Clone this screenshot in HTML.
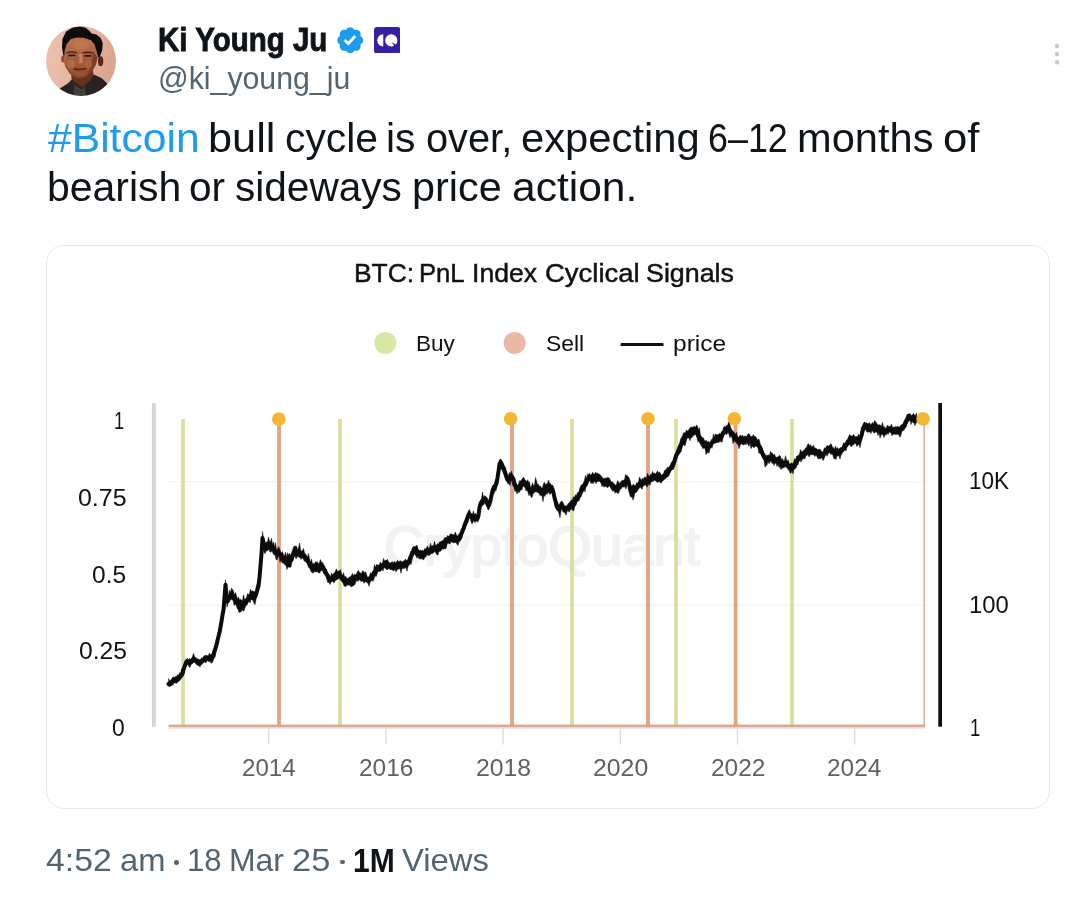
<!DOCTYPE html>
<html>
<head>
<meta charset="utf-8">
<title>Post</title>
<style>
html,body{margin:0;padding:0;background:#fff;}
body{width:1068px;height:899px;position:relative;overflow:hidden;font-family:"Liberation Sans",sans-serif;color:#0f1419;}
.abs{position:absolute;}
.t{position:absolute;white-space:nowrap;line-height:1;transform-origin:0 0;}
#avatar{left:46px;top:26px;width:70px;height:70px;}
#verified{left:335.1px;top:24.8px;width:30.4px;height:30.4px;}
#cq{left:373.6px;top:26.5px;width:26.6px;height:26.6px;}
#dots{left:1052.9px;top:41.9px;width:8px;height:26px;}
#card{left:46px;top:245px;width:1004px;height:564px;border:1px solid #e5e6e7;border-radius:18px;box-sizing:border-box;}
#chart{left:0;top:0;width:1068px;height:899px;}
svg text{font-family:"Liberation Sans",sans-serif;}
</style>
</head>
<body>
<svg id="avatar" class="abs" viewBox="0 0 70 70">
  <defs>
    <clipPath id="avc"><circle cx="35" cy="35" r="35"/></clipPath>
    <linearGradient id="avbg" x1="0" y1="0" x2="1" y2="0.25"><stop offset="0" stop-color="#ebc3b1"/><stop offset="0.45" stop-color="#e6b8a4"/><stop offset="1" stop-color="#dca58f"/></linearGradient>
    <linearGradient id="avsk" x1="0" y1="0" x2="0" y2="1"><stop offset="0" stop-color="#bb7650"/><stop offset="0.5" stop-color="#aa6341"/><stop offset="1" stop-color="#8a4529"/></linearGradient>
    <filter id="avb" x="-10%" y="-10%" width="120%" height="120%"><feGaussianBlur stdDeviation="0.6"/></filter>
  </defs>
  <g clip-path="url(#avc)">
    <rect width="70" height="70" fill="url(#avbg)"/>
    <g filter="url(#avb)">
      <path d="M8 68 L14.200 62.300 L21.800 57.400 L25.800 53.400 L30 50 L47.600 48.500 L55.600 52.100 L61.400 57.800 L68 66 L68 74 L6 74Z" fill="#2a2321"/>
      <path d="M25 45 L47 43 L47.500 50 L44 55 L36 61 L30 57 L25.500 53Z" fill="#63301c"/>
      <path d="M28.500 58.500 L35.500 63.500 L38.500 59 L40.500 72 L27 72Z" fill="#423d3c"/>
      <ellipse cx="54.600" cy="35.200" rx="2.700" ry="5" fill="#5a2a1a"/>
      <ellipse cx="16.900" cy="33" rx="1.700" ry="3.500" fill="#8b4b2f"/>
      <path d="M18.400 22 L20.500 14 L30 10 L44 11 L50 20 L51.600 31.600 L49.800 38.700 L45.800 45.800 L39.600 50.700 L33.400 52.500 L28.900 51.600 L23.600 47.600 L19.600 41.400 L17.800 35.100Z" fill="url(#avsk)"/>
      <path d="M47.500 26 L51.600 31.600 L49.800 38.700 L45.800 45.800 L40 50.500 Q46 40 47.500 26Z" fill="#7c3f27"/>
      <path d="M17.300 29.400 L16 21.800 L16.500 12.900 L20 5.800 L26.200 1.800 L33.400 0.600 L39.600 1.800 L43.600 4.900 L45.500 7.400 L50.300 8.400 L54.700 12 L56.700 17.300 L56.100 24.500 L53.800 30.700 L52.100 31.600 L50.700 25.400 L48.500 18.200 L44.900 14.200 L37.800 11.800 L30.700 11.600 L24.500 13.300 L20.500 18.200 L18.700 24.500 L18.400 29.400Z" fill="#0b0808"/>
      <path d="M20.500 27 Q25 24.800 31 26.800" stroke="#4a2416" stroke-width="1.400" fill="none"/>
      <path d="M36.500 27.200 Q42 25.200 47.500 27.200" stroke="#4a2416" stroke-width="1.400" fill="none"/>
      <ellipse cx="26" cy="30.800" rx="4.500" ry="3.400" fill="none" stroke="#7a4a30" stroke-width="0.550"/>
      <ellipse cx="42" cy="31" rx="4.700" ry="3.400" fill="none" stroke="#7a4a30" stroke-width="0.550"/>
      <path d="M22.500 29.600 L29.300 29.400 M38.500 29.800 L45.300 29.800" stroke="#321509" stroke-width="1.800"/><ellipse cx="34.500" cy="19" rx="8" ry="5" fill="#c27c54" opacity="0.7"/><ellipse cx="25" cy="38" rx="4" ry="4.500" fill="#b8714a" opacity="0.7"/><ellipse cx="42.500" cy="38" rx="3.500" ry="4.500" fill="#b06843" opacity="0.7"/>
      <path d="M32.800 28 Q34.300 33 33 37.200 L37 37.200 Q36.200 32 36 28Z" fill="#c88058"/>
      <path d="M27.800 42.800 Q34 44.600 40.200 42.400" stroke="#55230f" stroke-width="1.500" fill="none"/>
      <path d="M29 46 Q34 48.500 39 45.500 L37 49.500 L31 49.500Z" fill="#9c5636"/>
    </g>
  </g>
</svg>
<svg id="verified" class="abs" viewBox="0 0 24 24"><path fill="#1d9bf0" d="M22.250 12c0-1.430-.880-2.670-2.190-3.340.460-1.390.200-2.900-.810-3.910s-2.520-1.270-3.910-.810c-.660-1.310-1.910-2.190-3.340-2.190s-2.670.880-3.330 2.190c-1.400-.460-2.910-.200-3.920.810s-1.260 2.520-.800 3.910c-1.310.670-2.200 1.910-2.200 3.340s.890 2.670 2.200 3.340c-.460 1.390-.210 2.900.800 3.910s2.520 1.260 3.910.810c.670 1.310 1.910 2.190 3.340 2.190s2.680-.880 3.340-2.190c1.390.450 2.900.200 3.910-.810s1.270-2.520.810-3.910c1.310-.670 2.190-1.910 2.190-3.340z"/><path fill="none" stroke="#fff" stroke-width="2.200" stroke-linejoin="miter" d="M7.400 11.800 L10.600 14.600 L16 8.700"/></svg>
<svg id="cq" class="abs" viewBox="0 0 26.600 26.600"><rect width="26.600" height="26.600" rx="3.200" fill="#3420a5"/><path d="M9.250 7.350 A6.050 6.050 0 0 0 9.250 19.450Z" fill="#fff"/><circle cx="17.300" cy="13.400" r="6.050" fill="#fff"/><path d="M17.300 14.900 L22.900 18.300 L21.200 20.300Z" fill="#3420a5"/></svg>
<svg id="dots" class="abs" viewBox="0 0 8 26"><circle cx="4" cy="4" r="2.200" fill="#c4c9d1"/><circle cx="4" cy="12.100" r="2.200" fill="#c4c9d1"/><circle cx="4" cy="20.200" r="2.200" fill="#c4c9d1"/></svg>
<div id="card" class="abs"></div>
<svg id="chart" class="abs" viewBox="0 0 1068 899" width="1068" height="899">
<text id="wm" x="384" y="564.8" font-size="55" fill="#f2f2f4" stroke="#f2f2f4" stroke-width="1.9" textLength="316" lengthAdjust="spacingAndGlyphs">CryptoQuant</text>
<rect x="168" y="481.1" width="757" height="1.2" fill="#f3f3f5"/>
<rect x="168" y="604.6" width="757" height="1.2" fill="#f3f3f5"/>
<rect x="151.9" y="403.2" width="3.9" height="323.5" fill="#d4d4db"/>
<rect x="938.3" y="403" width="3.7" height="323.7" fill="#0d0d0f"/>
<rect x="181.20" y="419" width="3.6" height="308" fill="#d0e39e"/>
<rect x="338.20" y="419" width="3.6" height="308" fill="#d0e39e"/>
<rect x="570.20" y="419" width="3.6" height="308" fill="#d0e39e"/>
<rect x="674.20" y="419" width="3.6" height="308" fill="#d0e39e"/>
<rect x="790.20" y="419" width="3.6" height="308" fill="#d0e39e"/>
<rect x="277.10" y="419" width="3.8" height="308" fill="#e2a485"/>
<rect x="510.10" y="419" width="3.8" height="308" fill="#e2a485"/>
<rect x="646.10" y="419" width="3.8" height="308" fill="#e2a485"/>
<rect x="733.70" y="419" width="3.8" height="308" fill="#e2a485"/>
<rect x="923.4" y="419" width="1.5" height="308" fill="#e5ad92"/>
<rect x="168.6" y="726.6" width="756.4" height="2" fill="#d9dae2"/>
<rect x="168.6" y="724.6" width="756.4" height="2.3" fill="#e2a485"/>
<rect x="268.0" y="728.4" width="1.4" height="16.2" fill="#dedede"/>
<rect x="385.2" y="728.4" width="1.4" height="16.2" fill="#dedede"/>
<rect x="502.4" y="728.4" width="1.4" height="16.2" fill="#dedede"/>
<rect x="619.6" y="728.4" width="1.4" height="16.2" fill="#dedede"/>
<rect x="736.8" y="728.4" width="1.4" height="16.2" fill="#dedede"/>
<rect x="854.0" y="728.4" width="1.4" height="16.2" fill="#dedede"/>
<path d="M168.5 683.9 L169.5 683.5 L170.5 683.3 L171.5 682.1 L172.5 681.9 L173.5 681.2 L174.5 680.0 L175.5 679.7 L176.5 679.6 L177.5 679.7 L178.5 678.5 L179.5 677.2 L180.5 676.4 L181.5 675.3 L182.5 673.4 L183.5 669.7 L184.5 666.7 L185.5 663.8 L186.5 661.4 L187.5 661.6 L188.5 662.5 L189.5 663.1 L190.5 662.5 L191.5 661.7 L192.5 659.9 L193.5 659.1 L194.5 659.6 L195.5 660.5 L196.5 661.1 L197.5 662.8 L198.5 662.3 L199.5 662.9 L200.5 662.3 L201.5 661.3 L202.5 660.9 L203.5 659.7 L204.5 658.9 L205.5 659.1 L206.5 657.9 L207.5 658.3 L208.5 658.1 L209.5 657.7 L210.5 658.0 L211.5 657.8 L212.5 657.6 L213.5 654.5 L214.5 650.9 L215.5 648.5 L216.5 645.0 L217.5 640.5 L218.5 636.4 L219.5 632.5 L220.5 627.2 L221.5 621.3 L222.5 615.0 L223.5 609.9 L224.5 597.5 L225.5 584.7 L226.5 596.5 L227.5 601.4 L228.5 599.9 L229.5 597.1 L230.5 595.9 L231.5 596.0 L232.5 595.9 L233.5 596.8 L234.5 599.0 L235.5 599.6 L236.5 600.7 L237.5 602.7 L238.5 605.3 L239.5 606.6 L240.5 607.1 L241.5 606.7 L242.5 605.2 L243.5 603.7 L244.5 602.9 L245.5 602.4 L246.5 601.1 L247.5 599.7 L248.5 598.0 L249.5 596.6 L250.5 597.0 L251.5 596.3 L252.5 597.0 L253.5 597.1 L254.5 597.4 L255.5 596.0 L256.5 592.8 L257.5 589.3 L258.5 586.1 L259.5 577.5 L260.5 565.8 L261.5 553.9 L262.5 538.0 L263.5 542.2 L264.5 547.0 L265.5 548.8 L266.5 547.4 L267.5 546.2 L268.5 545.4 L269.5 544.8 L270.5 545.7 L271.5 547.2 L272.5 547.9 L273.5 549.4 L274.5 550.5 L275.5 552.1 L276.5 553.0 L277.5 553.3 L278.5 553.4 L279.5 553.2 L280.5 555.3 L281.5 557.0 L282.5 558.1 L283.5 558.9 L284.5 560.4 L285.5 561.2 L286.5 562.9 L287.5 564.1 L288.5 562.4 L289.5 561.3 L290.5 560.1 L291.5 558.4 L292.5 555.8 L293.5 553.9 L294.5 552.2 L295.5 552.0 L296.5 553.1 L297.5 553.1 L298.5 552.8 L299.5 553.6 L300.5 554.4 L301.5 554.1 L302.5 554.4 L303.5 555.8 L304.5 557.0 L305.5 558.2 L306.5 559.5 L307.5 559.9 L308.5 562.2 L309.5 563.5 L310.5 565.4 L311.5 567.4 L312.5 569.0 L313.5 568.3 L314.5 567.7 L315.5 567.5 L316.5 568.1 L317.5 567.3 L318.5 567.3 L319.5 567.5 L320.5 566.9 L321.5 566.8 L322.5 567.0 L323.5 568.0 L324.5 570.1 L325.5 572.2 L326.5 574.2 L327.5 575.7 L328.5 577.8 L329.5 580.1 L330.5 580.0 L331.5 578.9 L332.5 578.4 L333.5 577.3 L334.5 576.6 L335.5 576.0 L336.5 575.8 L337.5 575.2 L338.5 574.7 L339.5 574.9 L340.5 575.6 L341.5 577.3 L342.5 579.2 L343.5 580.3 L344.5 581.8 L345.5 581.8 L346.5 581.2 L347.5 581.2 L348.5 580.9 L349.5 580.7 L350.5 580.4 L351.5 580.0 L352.5 580.1 L353.5 579.5 L354.5 578.6 L355.5 578.4 L356.5 577.4 L357.5 576.2 L358.5 575.8 L359.5 576.3 L360.5 576.3 L361.5 576.3 L362.5 577.1 L363.5 577.5 L364.5 578.1 L365.5 577.9 L366.5 578.7 L367.5 580.1 L368.5 580.5 L369.5 579.4 L370.5 578.3 L371.5 577.2 L372.5 575.5 L373.5 574.0 L374.5 572.2 L375.5 571.4 L376.5 570.4 L377.5 568.7 L378.5 568.2 L379.5 567.3 L380.5 566.4 L381.5 566.8 L382.5 566.2 L383.5 564.8 L384.5 564.0 L385.5 563.8 L386.5 564.1 L387.5 565.0 L388.5 565.6 L389.5 565.7 L390.5 566.4 L391.5 566.1 L392.5 566.6 L393.5 566.8 L394.5 566.1 L395.5 566.5 L396.5 565.5 L397.5 564.8 L398.5 565.3 L399.5 565.7 L400.5 564.8 L401.5 564.7 L402.5 565.0 L403.5 564.3 L404.5 564.2 L405.5 563.8 L406.5 563.6 L407.5 564.1 L408.5 561.9 L409.5 560.1 L410.5 556.8 L411.5 555.4 L412.5 553.3 L413.5 550.3 L414.5 550.2 L415.5 550.7 L416.5 551.0 L417.5 551.8 L418.5 552.9 L419.5 554.4 L420.5 554.8 L421.5 555.1 L422.5 555.3 L423.5 555.2 L424.5 553.6 L425.5 552.6 L426.5 551.7 L427.5 551.5 L428.5 551.5 L429.5 551.4 L430.5 550.8 L431.5 549.5 L432.5 549.2 L433.5 548.8 L434.5 548.6 L435.5 548.7 L436.5 549.1 L437.5 548.2 L438.5 547.7 L439.5 547.0 L440.5 546.7 L441.5 545.9 L442.5 544.5 L443.5 543.1 L444.5 542.6 L445.5 541.7 L446.5 540.9 L447.5 540.7 L448.5 539.5 L449.5 538.6 L450.5 537.7 L451.5 539.0 L452.5 539.0 L453.5 538.7 L454.5 539.2 L455.5 539.7 L456.5 539.5 L457.5 539.0 L458.5 538.7 L459.5 538.4 L460.5 537.3 L461.5 533.6 L462.5 530.8 L463.5 529.0 L464.5 525.7 L465.5 523.2 L466.5 520.4 L467.5 517.4 L468.5 514.9 L469.5 514.5 L470.5 516.4 L471.5 516.8 L472.5 517.2 L473.5 517.1 L474.5 517.7 L475.5 517.6 L476.5 518.3 L477.5 518.5 L478.5 515.5 L479.5 507.8 L480.5 503.5 L481.5 502.1 L482.5 500.9 L483.5 500.7 L484.5 499.4 L485.5 498.9 L486.5 501.6 L487.5 503.5 L488.5 505.9 L489.5 504.0 L490.5 500.3 L491.5 495.4 L492.5 490.8 L493.5 488.1 L494.5 486.6 L495.5 485.4 L496.5 483.6 L497.5 478.0 L498.5 471.5 L499.5 463.9 L500.5 462.3 L501.5 464.2 L502.5 466.3 L503.5 468.6 L504.5 471.4 L505.5 473.9 L506.5 477.2 L507.5 479.4 L508.5 480.5 L509.5 478.6 L510.5 477.4 L511.5 476.5 L512.5 478.0 L513.5 480.7 L514.5 484.2 L515.5 485.7 L516.5 488.8 L517.5 489.2 L518.5 487.4 L519.5 486.0 L520.5 485.2 L521.5 483.5 L522.5 482.4 L523.5 482.3 L524.5 483.8 L525.5 484.8 L526.5 485.5 L527.5 487.0 L528.5 488.5 L529.5 489.6 L530.5 490.5 L531.5 489.5 L532.5 489.3 L533.5 489.1 L534.5 488.3 L535.5 487.1 L536.5 487.1 L537.5 488.5 L538.5 489.3 L539.5 491.2 L540.5 491.6 L541.5 492.0 L542.5 491.6 L543.5 491.3 L544.5 490.1 L545.5 489.5 L546.5 489.0 L547.5 488.6 L548.5 488.1 L549.5 487.7 L550.5 488.3 L551.5 488.9 L552.5 489.4 L553.5 492.7 L554.5 497.7 L555.5 501.2 L556.5 505.8 L557.5 507.9 L558.5 508.0 L559.5 507.9 L560.5 507.2 L561.5 506.6 L562.5 506.3 L563.5 507.6 L564.5 509.1 L565.5 509.5 L566.5 509.0 L567.5 507.7 L568.5 507.1 L569.5 506.6 L570.5 505.9 L571.5 505.5 L572.5 504.3 L573.5 503.3 L574.5 502.1 L575.5 500.5 L576.5 499.2 L577.5 498.2 L578.5 496.3 L579.5 494.8 L580.5 493.1 L581.5 490.9 L582.5 489.3 L583.5 487.4 L584.5 485.8 L585.5 484.6 L586.5 482.5 L587.5 480.7 L588.5 478.0 L589.5 477.4 L590.5 478.0 L591.5 478.6 L592.5 477.3 L593.5 477.2 L594.5 477.7 L595.5 477.7 L596.5 477.5 L597.5 476.7 L598.5 477.1 L599.5 478.0 L600.5 479.2 L601.5 480.5 L602.5 481.2 L603.5 482.3 L604.5 482.7 L605.5 482.4 L606.5 482.4 L607.5 482.7 L608.5 482.5 L609.5 482.5 L610.5 483.9 L611.5 484.9 L612.5 486.0 L613.5 486.5 L614.5 487.2 L615.5 488.6 L616.5 488.7 L617.5 487.6 L618.5 487.7 L619.5 486.9 L620.5 485.5 L621.5 484.5 L622.5 483.6 L623.5 483.1 L624.5 482.8 L625.5 481.3 L626.5 480.3 L627.5 479.2 L628.5 481.1 L629.5 486.1 L630.5 491.2 L631.5 493.4 L632.5 492.2 L633.5 490.8 L634.5 490.0 L635.5 489.2 L636.5 487.3 L637.5 486.7 L638.5 484.7 L639.5 483.8 L640.5 484.0 L641.5 483.9 L642.5 483.0 L643.5 482.5 L644.5 482.1 L645.5 481.5 L646.5 481.1 L647.5 480.4 L648.5 480.0 L649.5 480.0 L650.5 479.5 L651.5 478.4 L652.5 477.7 L653.5 476.5 L654.5 476.6 L655.5 477.0 L656.5 477.1 L657.5 478.2 L658.5 478.9 L659.5 479.3 L660.5 479.5 L661.5 478.9 L662.5 477.9 L663.5 477.4 L664.5 475.6 L665.5 474.7 L666.5 473.6 L667.5 472.0 L668.5 471.3 L669.5 469.7 L670.5 468.1 L671.5 466.7 L672.5 465.9 L673.5 464.3 L674.5 460.9 L675.5 457.3 L676.5 454.9 L677.5 453.4 L678.5 450.8 L679.5 448.0 L680.5 445.3 L681.5 443.9 L682.5 441.6 L683.5 440.1 L684.5 439.3 L685.5 437.7 L686.5 435.5 L687.5 434.1 L688.5 433.5 L689.5 433.7 L690.5 433.8 L691.5 433.5 L692.5 432.2 L693.5 431.8 L694.5 432.2 L695.5 431.2 L696.5 432.5 L697.5 433.9 L698.5 435.9 L699.5 436.7 L700.5 439.3 L701.5 440.7 L702.5 442.0 L703.5 443.0 L704.5 444.7 L705.5 445.3 L706.5 447.4 L707.5 448.1 L708.5 448.2 L709.5 446.2 L710.5 444.9 L711.5 443.4 L712.5 442.4 L713.5 440.9 L714.5 439.7 L715.5 439.3 L716.5 438.9 L717.5 438.5 L718.5 438.4 L719.5 437.8 L720.5 437.4 L721.5 436.5 L722.5 434.5 L723.5 432.6 L724.5 431.6 L725.5 430.1 L726.5 428.8 L727.5 428.7 L728.5 429.5 L729.5 429.8 L730.5 431.2 L731.5 433.0 L732.5 434.7 L733.5 435.7 L734.5 436.8 L735.5 437.4 L736.5 438.8 L737.5 440.8 L738.5 440.6 L739.5 440.1 L740.5 440.3 L741.5 440.7 L742.5 441.6 L743.5 440.6 L744.5 440.4 L745.5 440.5 L746.5 439.5 L747.5 439.4 L748.5 439.5 L749.5 439.6 L750.5 440.0 L751.5 440.8 L752.5 440.9 L753.5 440.6 L754.5 440.4 L755.5 441.8 L756.5 442.5 L757.5 444.2 L758.5 445.6 L759.5 446.7 L760.5 448.6 L761.5 451.1 L762.5 453.6 L763.5 455.8 L764.5 457.8 L765.5 459.2 L766.5 459.5 L767.5 458.5 L768.5 458.0 L769.5 458.8 L770.5 458.1 L771.5 457.2 L772.5 458.1 L773.5 458.5 L774.5 459.5 L775.5 459.8 L776.5 460.3 L777.5 461.4 L778.5 461.2 L779.5 462.1 L780.5 462.8 L781.5 463.2 L782.5 462.9 L783.5 463.5 L784.5 463.6 L785.5 463.4 L786.5 463.9 L787.5 464.9 L788.5 465.8 L789.5 467.0 L790.5 467.7 L791.5 466.9 L792.5 467.7 L793.5 467.5 L794.5 465.5 L795.5 463.1 L796.5 461.3 L797.5 460.3 L798.5 458.7 L799.5 457.2 L800.5 456.3 L801.5 455.9 L802.5 455.1 L803.5 454.6 L804.5 453.7 L805.5 452.6 L806.5 452.0 L807.5 451.7 L808.5 450.8 L809.5 450.4 L810.5 450.3 L811.5 450.6 L812.5 451.1 L813.5 450.9 L814.5 451.1 L815.5 451.5 L816.5 452.2 L817.5 452.7 L818.5 452.7 L819.5 453.9 L820.5 454.4 L821.5 454.9 L822.5 456.0 L823.5 455.3 L824.5 453.0 L825.5 451.1 L826.5 450.1 L827.5 449.7 L828.5 449.3 L829.5 449.8 L830.5 449.5 L831.5 450.4 L832.5 451.2 L833.5 452.5 L834.5 452.9 L835.5 453.5 L836.5 452.3 L837.5 452.2 L838.5 452.5 L839.5 451.9 L840.5 451.3 L841.5 450.3 L842.5 450.1 L843.5 448.1 L844.5 446.8 L845.5 445.5 L846.5 444.4 L847.5 443.1 L848.5 441.5 L849.5 440.3 L850.5 439.8 L851.5 440.4 L852.5 440.4 L853.5 440.5 L854.5 440.7 L855.5 440.7 L856.5 440.9 L857.5 441.4 L858.5 441.4 L859.5 440.1 L860.5 438.0 L861.5 435.5 L862.5 431.4 L863.5 428.1 L864.5 425.5 L865.5 426.4 L866.5 426.8 L867.5 426.7 L868.5 426.4 L869.5 427.6 L870.5 428.0 L871.5 426.9 L872.5 426.3 L873.5 426.9 L874.5 426.9 L875.5 426.7 L876.5 426.9 L877.5 427.7 L878.5 428.2 L879.5 429.3 L880.5 430.4 L881.5 430.6 L882.5 430.9 L883.5 431.5 L884.5 431.7 L885.5 431.5 L886.5 430.5 L887.5 429.4 L888.5 429.3 L889.5 429.2 L890.5 429.9 L891.5 430.5 L892.5 430.3 L893.5 430.5 L894.5 430.7 L895.5 430.8 L896.5 430.5 L897.5 430.4 L898.5 431.0 L899.5 430.9 L900.5 429.3 L901.5 428.5 L902.5 427.4 L903.5 426.7 L904.5 425.0 L905.5 423.0 L906.5 420.8 L907.5 419.4 L908.5 417.7 L909.5 417.7 L910.5 418.3 L911.5 418.5 L912.5 417.9 L913.5 419.0 L914.5 418.5 L915.5 418.8 L916.5 418.8" fill="none" stroke="#0c0c0e" stroke-width="4" stroke-linejoin="round" stroke-linecap="round"/>
<path d="M168.5 678.6 L169.5 680.4 L170.5 680.7 L171.5 679.0 L172.5 677.5 L173.5 677.1 L174.5 677.6 L175.5 676.4 L176.5 676.5 L177.5 674.6 L178.5 676.0 L179.5 672.6 L180.5 674.0 L181.5 669.1 L182.5 669.3 L183.5 665.5 L184.5 664.3 L185.5 660.6 L186.5 658.9 L187.5 658.4 L188.5 659.8 L189.5 658.5 L190.5 659.2 L191.5 658.8 L192.5 656.6 L193.5 653.3 L194.5 656.6 L195.5 657.7 L196.5 657.9 L197.5 659.2 L198.5 658.9 L199.5 659.7 L200.5 659.8 L201.5 657.8 L202.5 658.4 L203.5 656.6 L204.5 655.6 L205.5 655.6 L206.5 655.3 L207.5 655.7 L208.5 655.5 L209.5 653.1 L210.5 654.9 L211.5 654.2 L212.5 654.5 L213.5 650.8 L214.5 645.7 L215.5 643.2 L216.5 641.9 L217.5 635.9 L218.5 630.8 L219.5 628.0 L220.5 622.4 L221.5 617.2 L222.5 608.9 L223.5 605.2 L224.5 589.5 L225.5 579.8 L226.5 593.3 L227.5 596.2 L228.5 596.0 L229.5 590.1 L230.5 592.8 L231.5 588.1 L232.5 589.4 L233.5 591.2 L234.5 595.2 L235.5 592.5 L236.5 595.5 L237.5 599.7 L238.5 597.0 L239.5 600.1 L240.5 599.2 L241.5 600.0 L242.5 600.7 L243.5 594.7 L244.5 599.4 L245.5 598.9 L246.5 598.2 L247.5 593.6 L248.5 595.1 L249.5 593.3 L250.5 589.2 L251.5 592.0 L252.5 590.4 L253.5 591.5 L254.5 591.5 L255.5 592.6 L256.5 584.7 L257.5 585.8 L258.5 581.1 L259.5 572.5 L260.5 558.0 L261.5 550.1 L262.5 531.6 L263.5 538.6 L264.5 543.0 L265.5 543.7 L266.5 541.8 L267.5 542.2 L268.5 536.9 L269.5 541.3 L270.5 541.7 L271.5 538.2 L272.5 544.6 L273.5 541.9 L274.5 547.3 L275.5 542.6 L276.5 549.9 L277.5 549.1 L278.5 546.7 L279.5 548.6 L280.5 551.5 L281.5 553.8 L282.5 551.5 L283.5 554.9 L284.5 555.8 L285.5 552.1 L286.5 557.4 L287.5 552.8 L288.5 555.3 L289.5 553.2 L290.5 556.6 L291.5 553.0 L292.5 550.3 L293.5 546.9 L294.5 546.0 L295.5 546.2 L296.5 546.2 L297.5 549.4 L298.5 548.0 L299.5 543.0 L300.5 549.3 L301.5 551.5 L302.5 550.5 L303.5 548.4 L304.5 552.7 L305.5 554.0 L306.5 555.3 L307.5 557.2 L308.5 553.5 L309.5 559.0 L310.5 562.6 L311.5 559.0 L312.5 564.1 L313.5 563.2 L314.5 563.9 L315.5 561.7 L316.5 562.2 L317.5 561.7 L318.5 564.2 L319.5 562.5 L320.5 559.6 L321.5 562.6 L322.5 562.3 L323.5 564.2 L324.5 566.0 L325.5 569.2 L326.5 569.0 L327.5 572.9 L328.5 573.3 L329.5 575.5 L330.5 576.8 L331.5 573.1 L332.5 574.5 L333.5 573.6 L334.5 572.7 L335.5 570.9 L336.5 568.8 L337.5 572.0 L338.5 570.8 L339.5 570.9 L340.5 569.5 L341.5 573.4 L342.5 576.5 L343.5 572.6 L344.5 576.8 L345.5 576.2 L346.5 577.8 L347.5 578.5 L348.5 578.1 L349.5 576.9 L350.5 576.5 L351.5 575.3 L352.5 573.4 L353.5 575.9 L354.5 573.9 L355.5 575.0 L356.5 574.0 L357.5 571.4 L358.5 570.4 L359.5 572.6 L360.5 573.0 L361.5 573.4 L362.5 570.8 L363.5 571.3 L364.5 573.1 L365.5 571.7 L366.5 574.3 L367.5 577.5 L368.5 576.9 L369.5 575.7 L370.5 572.7 L371.5 573.4 L372.5 571.1 L373.5 570.9 L374.5 564.4 L375.5 567.6 L376.5 564.5 L377.5 564.9 L378.5 565.3 L379.5 564.2 L380.5 562.0 L381.5 564.0 L382.5 563.3 L383.5 558.4 L384.5 560.9 L385.5 560.0 L386.5 560.4 L387.5 559.2 L388.5 562.0 L389.5 562.7 L390.5 563.0 L391.5 561.9 L392.5 561.7 L393.5 563.2 L394.5 561.3 L395.5 563.1 L396.5 561.9 L397.5 560.3 L398.5 561.7 L399.5 561.2 L400.5 560.7 L401.5 561.4 L402.5 562.0 L403.5 561.0 L404.5 560.5 L405.5 559.0 L406.5 560.5 L407.5 560.6 L408.5 558.0 L409.5 556.4 L410.5 551.5 L411.5 551.6 L412.5 547.5 L413.5 546.5 L414.5 546.4 L415.5 546.5 L416.5 545.1 L417.5 546.6 L418.5 550.2 L419.5 550.4 L420.5 550.0 L421.5 550.9 L422.5 549.9 L423.5 551.6 L424.5 548.6 L425.5 549.0 L426.5 547.9 L427.5 545.8 L428.5 548.3 L429.5 548.0 L430.5 543.2 L431.5 546.3 L432.5 545.7 L433.5 545.6 L434.5 541.1 L435.5 545.6 L436.5 545.1 L437.5 543.5 L438.5 544.2 L439.5 541.7 L440.5 541.7 L441.5 541.1 L442.5 540.7 L443.5 540.1 L444.5 537.7 L445.5 537.5 L446.5 537.7 L447.5 535.5 L448.5 536.5 L449.5 535.2 L450.5 533.8 L451.5 534.0 L452.5 534.2 L453.5 534.9 L454.5 534.1 L455.5 532.0 L456.5 535.4 L457.5 535.9 L458.5 534.5 L459.5 533.0 L460.5 533.7 L461.5 528.8 L462.5 528.0 L463.5 522.7 L464.5 522.8 L465.5 519.0 L466.5 517.2 L467.5 513.3 L468.5 510.6 L469.5 509.5 L470.5 512.3 L471.5 513.9 L472.5 513.9 L473.5 510.9 L474.5 515.0 L475.5 513.1 L476.5 515.2 L477.5 514.1 L478.5 509.2 L479.5 504.0 L480.5 500.1 L481.5 499.1 L482.5 492.0 L483.5 497.5 L484.5 495.7 L485.5 496.1 L486.5 498.7 L487.5 498.5 L488.5 501.5 L489.5 500.0 L490.5 495.7 L491.5 491.2 L492.5 485.8 L493.5 485.3 L494.5 483.5 L495.5 479.6 L496.5 479.6 L497.5 472.8 L498.5 467.4 L499.5 459.6 L500.5 459.0 L501.5 460.5 L502.5 461.3 L503.5 464.1 L504.5 466.5 L505.5 467.3 L506.5 471.6 L507.5 475.8 L508.5 475.3 L509.5 472.4 L510.5 473.7 L511.5 471.2 L512.5 474.7 L513.5 476.0 L514.5 476.9 L515.5 480.5 L516.5 484.9 L517.5 486.3 L518.5 484.3 L519.5 480.7 L520.5 481.1 L521.5 479.8 L522.5 478.8 L523.5 477.0 L524.5 479.0 L525.5 480.5 L526.5 481.5 L527.5 479.7 L528.5 481.9 L529.5 481.9 L530.5 487.5 L531.5 486.3 L532.5 482.7 L533.5 485.8 L534.5 485.3 L535.5 477.5 L536.5 480.8 L537.5 484.8 L538.5 484.3 L539.5 486.5 L540.5 486.1 L541.5 488.0 L542.5 488.0 L543.5 483.8 L544.5 482.3 L545.5 484.9 L546.5 483.8 L547.5 483.2 L548.5 479.9 L549.5 483.6 L550.5 483.4 L551.5 485.3 L552.5 484.9 L553.5 486.9 L554.5 494.5 L555.5 496.1 L556.5 502.5 L557.5 501.8 L558.5 504.9 L559.5 504.2 L560.5 501.9 L561.5 501.2 L562.5 501.5 L563.5 503.7 L564.5 506.1 L565.5 506.0 L566.5 506.0 L567.5 504.8 L568.5 503.3 L569.5 502.6 L570.5 501.0 L571.5 500.1 L572.5 499.4 L573.5 496.7 L574.5 497.3 L575.5 494.7 L576.5 495.6 L577.5 492.6 L578.5 493.3 L579.5 489.2 L580.5 486.4 L581.5 484.8 L582.5 484.5 L583.5 482.4 L584.5 480.2 L585.5 475.3 L586.5 479.5 L587.5 473.9 L588.5 474.8 L589.5 473.2 L590.5 475.1 L591.5 474.8 L592.5 472.3 L593.5 473.7 L594.5 474.4 L595.5 472.1 L596.5 473.7 L597.5 472.8 L598.5 474.0 L599.5 474.3 L600.5 475.1 L601.5 476.7 L602.5 477.5 L603.5 478.7 L604.5 478.2 L605.5 478.3 L606.5 477.9 L607.5 477.4 L608.5 477.8 L609.5 478.2 L610.5 481.2 L611.5 482.3 L612.5 481.8 L613.5 483.2 L614.5 484.0 L615.5 485.5 L616.5 484.5 L617.5 480.6 L618.5 482.0 L619.5 483.5 L620.5 482.0 L621.5 481.0 L622.5 479.9 L623.5 480.4 L624.5 480.0 L625.5 474.4 L626.5 475.6 L627.5 475.8 L628.5 477.0 L629.5 482.0 L630.5 486.7 L631.5 485.7 L632.5 485.5 L633.5 484.0 L634.5 485.6 L635.5 486.0 L636.5 482.7 L637.5 483.4 L638.5 481.8 L639.5 477.1 L640.5 479.1 L641.5 480.2 L642.5 478.2 L643.5 479.2 L644.5 476.9 L645.5 477.2 L646.5 478.0 L647.5 473.2 L648.5 475.4 L649.5 476.5 L650.5 474.3 L651.5 474.4 L652.5 471.4 L653.5 473.5 L654.5 473.1 L655.5 473.9 L656.5 472.6 L657.5 470.7 L658.5 472.8 L659.5 472.0 L660.5 473.6 L661.5 475.3 L662.5 474.3 L663.5 473.8 L664.5 470.4 L665.5 469.8 L666.5 469.2 L667.5 467.1 L668.5 467.9 L669.5 467.0 L670.5 464.8 L671.5 462.0 L672.5 461.5 L673.5 460.2 L674.5 457.9 L675.5 453.8 L676.5 450.3 L677.5 448.4 L678.5 446.4 L679.5 444.2 L680.5 439.1 L681.5 437.7 L682.5 435.7 L683.5 432.8 L684.5 432.7 L685.5 432.5 L686.5 429.8 L687.5 431.3 L688.5 430.3 L689.5 428.4 L690.5 427.3 L691.5 427.1 L692.5 427.3 L693.5 426.8 L694.5 426.3 L695.5 427.3 L696.5 425.1 L697.5 425.9 L698.5 429.9 L699.5 427.7 L700.5 435.9 L701.5 436.7 L702.5 438.0 L703.5 437.8 L704.5 440.8 L705.5 440.8 L706.5 440.4 L707.5 442.1 L708.5 441.2 L709.5 442.9 L710.5 441.6 L711.5 439.5 L712.5 439.7 L713.5 433.7 L714.5 436.7 L715.5 434.0 L716.5 434.5 L717.5 434.7 L718.5 434.8 L719.5 433.2 L720.5 434.4 L721.5 431.7 L722.5 431.5 L723.5 427.5 L724.5 426.4 L725.5 426.9 L726.5 425.3 L727.5 425.8 L728.5 421.9 L729.5 422.6 L730.5 427.2 L731.5 429.8 L732.5 431.1 L733.5 431.5 L734.5 433.2 L735.5 434.1 L736.5 432.4 L737.5 436.5 L738.5 437.5 L739.5 435.9 L740.5 434.9 L741.5 436.5 L742.5 434.9 L743.5 437.1 L744.5 435.9 L745.5 436.2 L746.5 436.5 L747.5 434.8 L748.5 433.6 L749.5 434.2 L750.5 436.6 L751.5 436.5 L752.5 436.3 L753.5 434.6 L754.5 436.8 L755.5 436.5 L756.5 437.8 L757.5 440.4 L758.5 438.8 L759.5 440.2 L760.5 445.5 L761.5 446.1 L762.5 449.2 L763.5 452.4 L764.5 453.2 L765.5 455.6 L766.5 455.2 L767.5 455.5 L768.5 454.7 L769.5 455.7 L770.5 451.2 L771.5 453.3 L772.5 453.0 L773.5 455.4 L774.5 454.1 L775.5 456.9 L776.5 457.3 L777.5 456.9 L778.5 456.6 L779.5 455.3 L780.5 456.2 L781.5 460.1 L782.5 458.5 L783.5 460.9 L784.5 460.6 L785.5 455.7 L786.5 460.0 L787.5 460.7 L788.5 460.3 L789.5 464.4 L790.5 463.8 L791.5 462.7 L792.5 463.6 L793.5 462.7 L794.5 458.6 L795.5 460.0 L796.5 456.2 L797.5 455.8 L798.5 455.8 L799.5 453.8 L800.5 449.6 L801.5 451.7 L802.5 451.9 L803.5 450.1 L804.5 450.2 L805.5 447.9 L806.5 447.8 L807.5 444.7 L808.5 443.6 L809.5 446.1 L810.5 444.7 L811.5 447.1 L812.5 446.6 L813.5 445.2 L814.5 448.0 L815.5 448.2 L816.5 448.5 L817.5 449.8 L818.5 449.4 L819.5 448.9 L820.5 450.1 L821.5 451.0 L822.5 452.4 L823.5 450.9 L824.5 447.7 L825.5 448.5 L826.5 446.0 L827.5 445.5 L828.5 446.0 L829.5 445.7 L830.5 443.7 L831.5 444.5 L832.5 447.6 L833.5 447.6 L834.5 449.4 L835.5 446.1 L836.5 448.8 L837.5 447.5 L838.5 449.3 L839.5 448.3 L840.5 447.6 L841.5 447.4 L842.5 446.6 L843.5 442.6 L844.5 443.8 L845.5 442.4 L846.5 440.0 L847.5 439.5 L848.5 437.0 L849.5 434.5 L850.5 435.5 L851.5 436.1 L852.5 435.9 L853.5 434.3 L854.5 436.3 L855.5 436.8 L856.5 436.6 L857.5 436.8 L858.5 434.1 L859.5 437.3 L860.5 433.9 L861.5 427.0 L862.5 426.4 L863.5 423.3 L864.5 421.8 L865.5 423.1 L866.5 422.7 L867.5 423.5 L868.5 423.6 L869.5 422.5 L870.5 424.8 L871.5 424.0 L872.5 422.4 L873.5 424.0 L874.5 420.6 L875.5 421.2 L876.5 423.3 L877.5 424.2 L878.5 425.0 L879.5 424.8 L880.5 425.3 L881.5 425.9 L882.5 422.4 L883.5 427.2 L884.5 426.6 L885.5 428.7 L886.5 427.5 L887.5 425.1 L888.5 426.6 L889.5 426.3 L890.5 426.6 L891.5 424.1 L892.5 427.4 L893.5 427.0 L894.5 427.2 L895.5 426.4 L896.5 427.2 L897.5 426.0 L898.5 426.9 L899.5 427.0 L900.5 425.7 L901.5 424.7 L902.5 424.6 L903.5 422.7 L904.5 420.2 L905.5 418.8 L906.5 415.9 L907.5 414.0 L908.5 414.0 L909.5 413.5 L910.5 414.1 L911.5 415.8 L912.5 414.5 L913.5 413.3 L914.5 415.2 L915.5 415.3 L916.5 413.0 L917.0 421.7 L916.0 423.1 L915.0 425.7 L914.0 422.6 L913.0 423.0 L912.0 420.9 L911.0 424.6 L910.0 420.6 L909.0 420.5 L908.0 422.3 L907.0 423.9 L906.0 427.2 L905.0 428.3 L904.0 430.1 L903.0 430.8 L902.0 430.9 L901.0 435.0 L900.0 437.3 L899.0 435.3 L898.0 434.2 L897.0 434.3 L896.0 434.5 L895.0 434.3 L894.0 434.2 L893.0 434.3 L892.0 435.8 L891.0 433.0 L890.0 432.1 L889.0 432.6 L888.0 434.4 L887.0 432.8 L886.0 435.4 L885.0 434.4 L884.0 437.4 L883.0 434.9 L882.0 433.8 L881.0 435.6 L880.0 438.1 L879.0 432.5 L878.0 435.6 L877.0 432.5 L876.0 431.8 L875.0 432.4 L874.0 433.2 L873.0 431.7 L872.0 430.4 L871.0 433.6 L870.0 432.0 L869.0 431.8 L868.0 432.3 L867.0 432.1 L866.0 430.5 L865.0 429.0 L864.0 430.4 L863.0 434.0 L862.0 439.0 L861.0 443.0 L860.0 447.8 L859.0 444.1 L858.0 444.7 L857.0 446.5 L856.0 444.2 L855.0 443.1 L854.0 444.5 L853.0 444.7 L852.0 445.9 L851.0 446.9 L850.0 445.0 L849.0 443.9 L848.0 446.2 L847.0 446.9 L846.0 450.9 L845.0 449.4 L844.0 450.9 L843.0 452.0 L842.0 453.7 L841.0 455.0 L840.0 458.9 L839.0 455.8 L838.0 455.8 L837.0 456.1 L836.0 459.5 L835.0 458.5 L834.0 458.9 L833.0 455.6 L832.0 453.1 L831.0 454.8 L830.0 452.8 L829.0 452.8 L828.0 453.9 L827.0 456.3 L826.0 453.3 L825.0 455.3 L824.0 459.0 L823.0 460.6 L822.0 458.0 L821.0 457.8 L820.0 459.3 L819.0 458.3 L818.0 458.9 L817.0 456.8 L816.0 454.7 L815.0 456.5 L814.0 455.2 L813.0 454.4 L812.0 454.9 L811.0 454.2 L810.0 455.5 L809.0 457.0 L808.0 454.6 L807.0 455.6 L806.0 455.6 L805.0 458.9 L804.0 458.3 L803.0 459.1 L802.0 459.6 L801.0 462.2 L800.0 459.4 L799.0 461.3 L798.0 465.1 L797.0 464.9 L796.0 468.2 L795.0 468.1 L794.0 469.5 L793.0 473.9 L792.0 470.5 L791.0 473.2 L790.0 473.0 L789.0 470.1 L788.0 469.5 L787.0 467.6 L786.0 467.3 L785.0 466.6 L784.0 467.8 L783.0 467.6 L782.0 468.4 L781.0 469.6 L780.0 466.8 L779.0 467.2 L778.0 464.1 L777.0 466.6 L776.0 462.7 L775.0 463.4 L774.0 465.5 L773.0 462.8 L772.0 463.6 L771.0 460.8 L770.0 462.0 L769.0 463.8 L768.0 461.2 L767.0 465.1 L766.0 465.2 L765.0 467.3 L764.0 460.2 L763.0 457.8 L762.0 456.5 L761.0 454.3 L760.0 452.1 L759.0 453.7 L758.0 447.9 L757.0 446.1 L756.0 446.5 L755.0 446.0 L754.0 447.9 L753.0 446.7 L752.0 446.5 L751.0 448.7 L750.0 442.8 L749.0 446.3 L748.0 444.4 L747.0 442.6 L746.0 445.0 L745.0 443.6 L744.0 444.9 L743.0 444.7 L742.0 444.3 L741.0 443.6 L740.0 445.4 L739.0 448.8 L738.0 444.5 L737.0 444.0 L736.0 442.0 L735.0 441.7 L734.0 440.9 L733.0 443.8 L732.0 437.7 L731.0 435.3 L730.0 437.9 L729.0 434.5 L728.0 432.3 L727.0 434.2 L726.0 434.6 L725.0 433.3 L724.0 434.7 L723.0 437.9 L722.0 442.3 L721.0 441.7 L720.0 441.0 L719.0 442.6 L718.0 442.5 L717.0 442.4 L716.0 443.1 L715.0 442.9 L714.0 443.6 L713.0 444.1 L712.0 448.3 L711.0 446.5 L710.0 448.0 L709.0 453.3 L708.0 451.7 L707.0 453.2 L706.0 454.5 L705.0 448.2 L704.0 447.7 L703.0 448.8 L702.0 446.9 L701.0 445.3 L700.0 443.6 L699.0 440.4 L698.0 442.2 L697.0 437.9 L696.0 434.6 L695.0 434.6 L694.0 435.3 L693.0 436.0 L692.0 437.7 L691.0 437.4 L690.0 440.7 L689.0 438.0 L688.0 438.0 L687.0 437.7 L686.0 442.4 L685.0 446.0 L684.0 445.2 L683.0 443.9 L682.0 448.0 L681.0 451.9 L680.0 452.5 L679.0 453.9 L678.0 455.3 L677.0 458.6 L676.0 460.8 L675.0 464.6 L674.0 468.1 L673.0 469.9 L672.0 469.1 L671.0 470.9 L670.0 473.1 L669.0 475.5 L668.0 476.9 L667.0 476.8 L666.0 478.5 L665.0 479.0 L664.0 479.3 L663.0 480.9 L662.0 481.2 L661.0 483.4 L660.0 482.0 L659.0 481.7 L658.0 482.0 L657.0 482.4 L656.0 480.7 L655.0 480.8 L654.0 480.1 L653.0 481.7 L652.0 481.3 L651.0 482.1 L650.0 485.5 L649.0 483.3 L648.0 485.5 L647.0 487.2 L646.0 485.0 L645.0 485.0 L644.0 485.6 L643.0 486.4 L642.0 489.3 L641.0 487.9 L640.0 486.7 L639.0 488.7 L638.0 489.4 L637.0 491.4 L636.0 492.8 L635.0 492.6 L634.0 497.0 L633.0 500.1 L632.0 496.5 L631.0 497.4 L630.0 495.7 L629.0 486.7 L628.0 483.8 L627.0 485.4 L626.0 489.0 L625.0 486.4 L624.0 487.3 L623.0 486.7 L622.0 487.2 L621.0 489.3 L620.0 488.9 L619.0 492.3 L618.0 493.8 L617.0 492.4 L616.0 492.0 L615.0 493.3 L614.0 490.0 L613.0 491.5 L612.0 490.0 L611.0 488.7 L610.0 486.4 L609.0 485.6 L608.0 487.6 L607.0 487.4 L606.0 486.3 L605.0 486.2 L604.0 487.3 L603.0 485.1 L602.0 486.7 L601.0 483.3 L600.0 481.0 L599.0 481.1 L598.0 481.8 L597.0 481.4 L596.0 483.7 L595.0 481.3 L594.0 482.1 L593.0 483.8 L592.0 482.3 L591.0 483.7 L590.0 480.4 L589.0 480.3 L588.0 482.8 L587.0 486.0 L586.0 486.2 L585.0 491.9 L584.0 489.0 L583.0 491.6 L582.0 492.6 L581.0 497.2 L580.0 497.1 L579.0 501.0 L578.0 500.8 L577.0 501.9 L576.0 505.2 L575.0 505.8 L574.0 510.3 L573.0 511.1 L572.0 509.2 L571.0 509.0 L570.0 510.5 L569.0 512.3 L568.0 510.2 L567.0 511.8 L566.0 515.2 L565.0 513.0 L564.0 512.1 L563.0 512.1 L562.0 508.8 L561.0 511.0 L560.0 517.7 L559.0 513.6 L558.0 511.1 L557.0 510.6 L556.0 507.8 L555.0 502.9 L554.0 498.2 L553.0 494.4 L552.0 492.5 L551.0 493.6 L550.0 494.3 L549.0 493.2 L548.0 491.6 L547.0 494.7 L546.0 493.3 L545.0 496.4 L544.0 494.9 L543.0 501.7 L542.0 496.4 L541.0 495.0 L540.0 495.6 L539.0 493.6 L538.0 492.2 L537.0 492.2 L536.0 491.7 L535.0 491.9 L534.0 492.8 L533.0 494.0 L532.0 497.6 L531.0 497.1 L530.0 493.6 L529.0 495.8 L528.0 492.2 L527.0 490.0 L526.0 490.9 L525.0 487.5 L524.0 486.6 L523.0 485.9 L522.0 489.8 L521.0 489.8 L520.0 490.9 L519.0 492.8 L518.0 491.4 L517.0 494.1 L516.0 489.9 L515.0 491.7 L514.0 486.4 L513.0 486.2 L512.0 479.7 L511.0 481.3 L510.0 485.7 L509.0 483.0 L508.0 484.3 L507.0 481.7 L506.0 480.4 L505.0 477.0 L504.0 473.4 L503.0 470.1 L502.0 468.7 L501.0 469.7 L500.0 467.2 L499.0 474.9 L498.0 480.1 L497.0 486.8 L496.0 490.9 L495.0 490.5 L494.0 493.7 L493.0 492.3 L492.0 497.9 L491.0 501.3 L490.0 506.2 L489.0 509.5 L488.0 510.0 L487.0 506.6 L486.0 505.1 L485.0 502.3 L484.0 504.3 L483.0 505.5 L482.0 505.7 L481.0 506.8 L480.0 508.7 L479.0 516.7 L478.0 522.1 L477.0 521.3 L476.0 521.0 L475.0 522.8 L474.0 520.6 L473.0 521.9 L472.0 523.9 L471.0 521.5 L470.0 518.6 L469.0 517.1 L468.0 522.9 L467.0 522.8 L466.0 525.0 L465.0 527.5 L464.0 531.0 L463.0 533.5 L462.0 535.0 L461.0 539.1 L460.0 541.8 L459.0 541.3 L458.0 545.5 L457.0 544.2 L456.0 542.5 L455.0 542.5 L454.0 543.1 L453.0 542.3 L452.0 542.4 L451.0 541.4 L450.0 544.0 L449.0 543.7 L448.0 542.8 L447.0 544.5 L446.0 548.7 L445.0 548.7 L444.0 548.8 L443.0 549.5 L442.0 548.6 L441.0 551.0 L440.0 551.2 L439.0 551.5 L438.0 554.9 L437.0 555.0 L436.0 553.3 L435.0 551.7 L434.0 551.9 L433.0 553.4 L432.0 553.2 L431.0 553.8 L430.0 554.7 L429.0 555.6 L428.0 555.1 L427.0 554.7 L426.0 557.1 L425.0 556.7 L424.0 559.6 L423.0 559.8 L422.0 558.5 L421.0 559.1 L420.0 558.8 L419.0 558.8 L418.0 556.5 L417.0 558.3 L416.0 555.7 L415.0 555.1 L414.0 552.7 L413.0 556.4 L412.0 560.1 L411.0 564.5 L410.0 563.5 L409.0 564.4 L408.0 566.6 L407.0 571.2 L406.0 567.8 L405.0 567.4 L404.0 569.0 L403.0 567.9 L402.0 568.9 L401.0 573.3 L400.0 568.7 L399.0 568.8 L398.0 569.4 L397.0 569.8 L396.0 572.0 L395.0 569.0 L394.0 570.9 L393.0 570.4 L392.0 570.0 L391.0 569.4 L390.0 569.7 L389.0 568.6 L388.0 568.9 L387.0 570.0 L386.0 568.6 L385.0 568.4 L384.0 567.0 L383.0 571.1 L382.0 569.2 L381.0 570.8 L380.0 571.8 L379.0 571.1 L378.0 571.6 L377.0 574.1 L376.0 576.8 L375.0 575.3 L374.0 578.8 L373.0 581.5 L372.0 579.7 L371.0 581.1 L370.0 582.6 L369.0 586.3 L368.0 583.3 L367.0 582.4 L366.0 582.1 L365.0 581.4 L364.0 583.3 L363.0 581.2 L362.0 580.9 L361.0 581.7 L360.0 579.7 L359.0 579.9 L358.0 581.6 L357.0 579.7 L356.0 581.8 L355.0 584.3 L354.0 585.4 L353.0 585.9 L352.0 586.2 L351.0 587.1 L350.0 585.2 L349.0 585.1 L348.0 585.3 L347.0 584.8 L346.0 586.4 L345.0 586.3 L344.0 585.9 L343.0 582.8 L342.0 581.3 L341.0 580.4 L340.0 579.6 L339.0 578.2 L338.0 579.0 L337.0 579.6 L336.0 580.6 L335.0 580.7 L334.0 583.1 L333.0 581.5 L332.0 581.3 L331.0 582.4 L330.0 584.6 L329.0 581.6 L328.0 583.0 L327.0 580.0 L326.0 576.1 L325.0 573.7 L324.0 574.2 L323.0 571.7 L322.0 570.1 L321.0 570.6 L320.0 572.4 L319.0 573.2 L318.0 572.4 L317.0 571.4 L316.0 571.9 L315.0 572.0 L314.0 571.2 L313.0 573.4 L312.0 572.1 L311.0 571.7 L310.0 568.0 L309.0 568.0 L308.0 565.9 L307.0 562.4 L306.0 562.4 L305.0 561.2 L304.0 560.8 L303.0 557.9 L302.0 558.0 L301.0 559.5 L300.0 557.1 L299.0 557.6 L298.0 556.3 L297.0 556.9 L296.0 558.9 L295.0 555.7 L294.0 557.3 L293.0 561.3 L292.0 561.5 L291.0 566.9 L290.0 567.3 L289.0 567.3 L288.0 566.7 L287.0 569.5 L286.0 565.7 L285.0 564.6 L284.0 563.9 L283.0 562.7 L282.0 563.0 L281.0 560.0 L280.0 562.4 L279.0 556.6 L278.0 556.6 L277.0 559.9 L276.0 559.4 L275.0 554.4 L274.0 555.1 L273.0 553.4 L272.0 550.5 L271.0 552.1 L270.0 552.2 L269.0 549.0 L268.0 550.4 L267.0 550.8 L266.0 551.0 L265.0 553.8 L264.0 551.9 L263.0 546.6 L262.0 550.5 L261.0 565.9 L260.0 575.9 L259.0 586.8 L258.0 592.8 L257.0 594.7 L256.0 599.4 L255.0 604.7 L254.0 603.1 L253.0 600.4 L252.0 599.7 L251.0 599.4 L250.0 602.9 L249.0 600.8 L248.0 602.8 L247.0 605.0 L246.0 605.5 L245.0 607.8 L244.0 610.9 L243.0 611.1 L242.0 609.4 L241.0 612.0 L240.0 611.9 L239.0 612.5 L238.0 609.5 L237.0 608.0 L236.0 603.7 L235.0 605.2 L234.0 604.9 L233.0 600.3 L232.0 599.7 L231.0 599.1 L230.0 599.8 L229.0 601.1 L228.0 603.6 L227.0 607.3 L226.0 594.0 L225.0 594.2 L224.0 610.0 L223.0 616.8 L222.0 622.3 L221.0 631.0 L220.0 633.4 L219.0 637.5 L218.0 642.2 L217.0 646.6 L216.0 651.8 L215.0 657.5 L214.0 656.6 L213.0 661.1 L212.0 663.1 L211.0 663.0 L210.0 661.0 L209.0 662.0 L208.0 660.7 L207.0 660.7 L206.0 662.9 L205.0 662.3 L204.0 661.9 L203.0 662.8 L202.0 664.6 L201.0 664.4 L200.0 667.1 L199.0 665.5 L198.0 665.8 L197.0 664.7 L196.0 663.8 L195.0 662.6 L194.0 662.5 L193.0 662.5 L192.0 664.1 L191.0 664.2 L190.0 667.5 L189.0 666.7 L188.0 664.5 L187.0 664.9 L186.0 666.3 L185.0 667.8 L184.0 674.1 L183.0 675.8 L182.0 677.6 L181.0 677.8 L180.0 680.4 L179.0 680.9 L178.0 681.8 L177.0 682.9 L176.0 683.5 L175.0 682.6 L174.0 683.0 L173.0 684.6 L172.0 685.8 L171.0 685.8 L170.0 686.1 L169.0 687.2Z" fill="#0c0c0e" stroke="#0c0c0e" stroke-width="0.5" stroke-linejoin="miter"/>
<circle cx="278.80" cy="419.10" r="6.8" fill="#f4b733"/>
<circle cx="510.60" cy="418.80" r="6.8" fill="#f4b733"/>
<circle cx="648.00" cy="418.80" r="6.8" fill="#f4b733"/>
<circle cx="734.40" cy="418.80" r="6.8" fill="#f4b733"/>
<circle cx="923.10" cy="418.90" r="6.8" fill="#f4b733"/>
<circle cx="385.4" cy="342.9" r="11" fill="#d6e7a6"/>
<circle cx="514.7" cy="342.9" r="11" fill="#eab8a3"/>
<rect x="620.5" y="342.9" width="43.1" height="3.2" rx="1.2" fill="#111"/>
</svg>
<div id="name" class="t" style="left:158.21px;top:22.02px;font-size:34px;font-weight:bold;color:#0f1419;transform:scaleX(0.8675);-webkit-text-stroke:0.9px #0f1419;">Ki Young Ju</div>
<div id="handle" class="t" style="left:157.56px;top:62.98px;font-size:30.5px;color:#536471;transform:scaleX(0.9921);">@ki_young_ju</div>
<div id="a0" class="t" style="left:47.69px;top:118.14px;font-size:40px;color:#1d9bf0;transform:scaleX(1.0659);">#Bitcoin</div>
<div id="b0" class="t" style="left:208.09px;top:118.14px;font-size:40px;color:#0f1419;transform:scaleX(1.0825);">bull</div>
<div id="b1" class="t" style="left:284.97px;top:118.14px;font-size:40px;color:#0f1419;transform:scaleX(1.0194);">cycle</div>
<div id="b2" class="t" style="left:386.15px;top:118.14px;font-size:40px;color:#0f1419;transform:scaleX(1.0202);">is</div>
<div id="b3" class="t" style="left:425.91px;top:118.14px;font-size:40px;color:#0f1419;transform:scaleX(0.9939);">over,</div>
<div id="b4" class="t" style="left:521.13px;top:118.14px;font-size:40px;color:#0f1419;transform:scaleX(1.0437);">expecting</div>
<div id="b5" class="t" style="left:707.91px;top:118.14px;font-size:40px;color:#0f1419;transform:scaleX(0.8963);">6&#8211;12</div>
<div id="b6" class="t" style="left:796.99px;top:118.14px;font-size:40px;color:#0f1419;transform:scaleX(1.0401);">months</div>
<div id="b7" class="t" style="left:942.94px;top:118.14px;font-size:40px;color:#0f1419;transform:scaleX(1.0915);">of</div>
<div id="c0" class="t" style="left:46.64px;top:167.34px;font-size:40px;color:#0f1419;transform:scaleX(1.0230);">bearish</div>
<div id="c1" class="t" style="left:188.57px;top:167.34px;font-size:40px;color:#0f1419;transform:scaleX(1.0151);">or</div>
<div id="c2" class="t" style="left:235.39px;top:167.34px;font-size:40px;color:#0f1419;transform:scaleX(1.0136);">sideways</div>
<div id="c3" class="t" style="left:411.51px;top:167.34px;font-size:40px;color:#0f1419;transform:scaleX(1.0340);">price</div>
<div id="c4" class="t" style="left:512.39px;top:167.34px;font-size:40px;color:#0f1419;transform:scaleX(1.0631);">action.</div>
<div id="f0" class="t" style="left:46.24px;top:844.41px;font-size:32px;color:#536471;transform:scaleX(1.0547);">4:52</div>
<div id="f1" class="t" style="left:119.51px;top:844.41px;font-size:32px;color:#536471;transform:scaleX(1.0229);">am</div>
<div id="f2" class="abs" style="left:174.30px;top:859.85px;width:4.70px;height:4.70px;border-radius:50%;background:#536471;"></div>
<div id="f3" class="t" style="left:186.56px;top:844.41px;font-size:32px;color:#536471;transform:scaleX(0.9729);">18</div>
<div id="f4" class="t" style="left:229.27px;top:844.41px;font-size:32px;color:#536471;transform:scaleX(0.9981);">Mar</div>
<div id="f5" class="t" style="left:292.48px;top:844.41px;font-size:32px;color:#536471;transform:scaleX(1.0754);">25</div>
<div id="f6" class="abs" style="left:340.30px;top:859.90px;width:4.60px;height:4.60px;border-radius:50%;background:#536471;"></div>
<div id="f7" class="t" style="left:401.94px;top:844.41px;font-size:32px;color:#536471;transform:scaleX(1.0261);">Views</div>
<div id="t0" class="t" style="left:353.72px;top:260.64px;font-size:25px;color:#111;transform:scaleX(1.0565);-webkit-text-stroke:0.45px #111;">BTC:</div>
<div id="t1" class="t" style="left:418.69px;top:260.64px;font-size:25px;color:#111;transform:scaleX(1.0250);-webkit-text-stroke:0.45px #111;">PnL</div>
<div id="t2" class="t" style="left:471.74px;top:260.64px;font-size:25px;color:#111;transform:scaleX(1.0621);-webkit-text-stroke:0.45px #111;">Index</div>
<div id="t3" class="t" style="left:544.63px;top:260.64px;font-size:25px;color:#111;transform:scaleX(1.0987);-webkit-text-stroke:0.45px #111;">Cyclical</div>
<div id="t4" class="t" style="left:645.89px;top:260.64px;font-size:25px;color:#111;transform:scaleX(1.0725);-webkit-text-stroke:0.45px #111;">Signals</div>
<div id="f2" class="t" style="left:353.32px;top:843.57px;font-size:33px;font-weight:bold;color:#0f1419;transform:scaleX(0.9115);">1M</div>
<div id="lbuy" class="t" style="left:416.04px;top:332.75px;font-size:22.5px;color:#111;transform:scaleX(1.0015);">Buy</div>
<div id="lsell" class="t" style="left:546.07px;top:332.75px;font-size:22.5px;color:#111;transform:scaleX(1.0175);">Sell</div>
<div id="lprice" class="t" style="left:672.91px;top:332.75px;font-size:22.5px;color:#111;transform:scaleX(1.0895);">price</div>
<div id="y1" class="t" style="left:113.63px;top:410.03px;font-size:23px;color:#111;transform:scaleX(0.7942);">1</div>
<div id="y075" class="t" style="left:77.90px;top:486.73px;font-size:23px;color:#111;transform:scaleX(1.0840);">0.75</div>
<div id="y05" class="t" style="left:92.32px;top:563.53px;font-size:23px;color:#111;transform:scaleX(1.0654);">0.5</div>
<div id="y025" class="t" style="left:78.52px;top:640.23px;font-size:23px;color:#111;transform:scaleX(1.0701);">0.25</div>
<div id="y0" class="t" style="left:112.39px;top:717.03px;font-size:23px;color:#111;transform:scaleX(0.9925);">0</div>
<div id="r10k" class="t" style="left:969.01px;top:470.13px;font-size:23px;color:#111;transform:scaleX(0.9787);">10K</div>
<div id="r100" class="t" style="left:968.91px;top:593.53px;font-size:23px;color:#111;transform:scaleX(1.0373);">100</div>
<div id="r1" class="t" style="left:969.61px;top:717.03px;font-size:23px;color:#111;transform:scaleX(0.8042);">1</div>
<div id="x2014" class="t" style="left:241.69px;top:757.43px;font-size:23px;color:#606060;transform:scaleX(1.0479);">2014</div>
<div id="x2016" class="t" style="left:358.78px;top:757.43px;font-size:23px;color:#606060;transform:scaleX(1.0614);">2016</div>
<div id="x2018" class="t" style="left:475.96px;top:757.43px;font-size:23px;color:#606060;transform:scaleX(1.0778);">2018</div>
<div id="x2020" class="t" style="left:593.16px;top:757.43px;font-size:23px;color:#606060;transform:scaleX(1.0793);">2020</div>
<div id="x2022" class="t" style="left:710.58px;top:757.43px;font-size:23px;color:#606060;transform:scaleX(1.0631);">2022</div>
<div id="x2024" class="t" style="left:827.48px;top:757.43px;font-size:23px;color:#606060;transform:scaleX(1.0621);">2024</div>
</body>
</html>
